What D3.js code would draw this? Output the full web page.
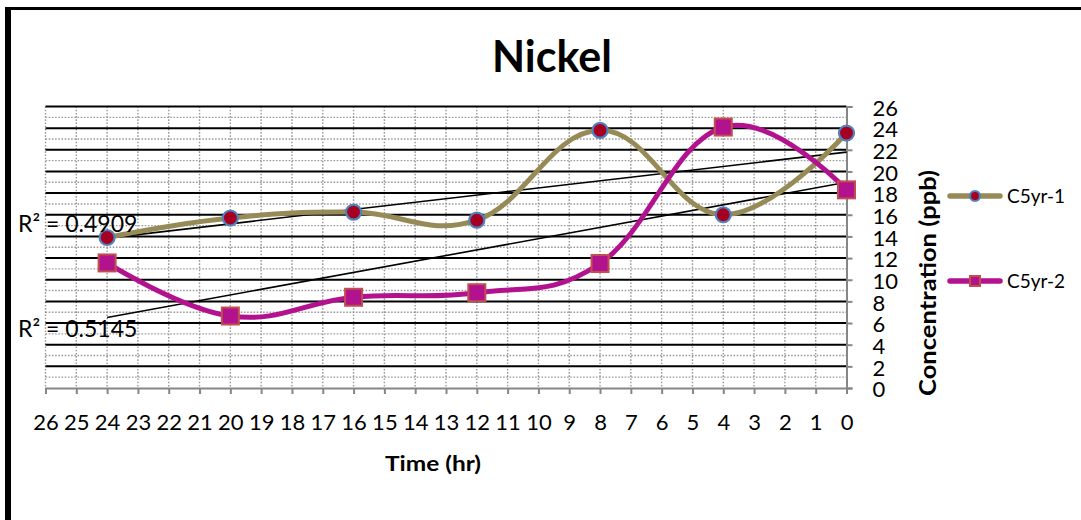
<!DOCTYPE html>
<html>
<head>
<meta charset="utf-8">
<script src="https://cdn.jsdelivr.net/npm/d3@7/dist/d3.min.js"></script>
<style>
  html, body { margin: 0; padding: 0; background: #fff; }
  svg { display: block; }
  text { font-family: Lato, "Open Sans", sans-serif; fill: #000; }
</style>
</head>
<body>
<svg id="chart" width="1081" height="520"></svg>
<script>
// Nickel concentration over time, two sampling campaigns
const hours = [24, 20, 16, 12, 8, 4, 0];
const c5yr1 = [13.9, 15.7, 16.25, 15.5, 23.8, 16.0, 23.55];
const c5yr2 = [11.55, 6.65, 8.38, 8.8, 11.5, 24.1, 18.3];
const seriesNames = ["C5yr-1", "C5yr-2"];
const rSquaredLabels = ["R\u00B2 = 0.4909", "R\u00B2 = 0.5145"];
const xTickValues = d3.range(26, -1, -1);
const yTickValues = d3.range(0, 27, 2);

const W = 1081, H = 520;
const svg = d3.select("#chart");

// frame of the chart object
svg.append("rect").attr("x", 5).attr("y", 7).attr("width", W).attr("height", 3).attr("fill", "#000");
svg.append("rect").attr("x", 5).attr("y", 7).attr("width", 6).attr("height", H).attr("fill", "#000");

const plot = { left: 45.5, right: 846.5, top: 106.5, bottom: 388 };
const x = d3.scaleLinear().domain([26, 0]).range([plot.left, plot.right]);
const y = d3.scaleLinear().domain([0, 26]).range([plot.bottom, plot.top]);

// minor grid: dotted at every hour and every odd ppb
const grid = svg.append("g");
grid.selectAll("line.vx").data(xTickValues.filter(d => d !== 0)).join("line")
  .attr("x1", d => x(d)).attr("x2", d => x(d))
  .attr("y1", plot.top).attr("y2", plot.bottom)
  .attr("stroke", "#9a9a9a").attr("stroke-width", 1.4).attr("stroke-dasharray", "1.6,1.6");
grid.selectAll("line.hm").data(d3.range(1, 26, 2)).join("line")
  .attr("x1", plot.left).attr("x2", plot.right)
  .attr("y1", d => y(d)).attr("y2", d => y(d))
  .attr("stroke", "#9a9a9a").attr("stroke-width", 1.4).attr("stroke-dasharray", "1.6,1.6");
// major grid: solid every 2 ppb
grid.selectAll("line.hM").data(yTickValues.filter(d => d !== 0)).join("line")
  .attr("x1", plot.left).attr("x2", plot.right)
  .attr("y1", d => y(d)).attr("y2", d => y(d))
  .attr("stroke", "#000").attr("stroke-width", 2);

// axes
const xAxis = d3.axisBottom(x).tickValues(xTickValues).tickSize(6).tickPadding(20).tickFormat(d3.format("d"));
const gx = svg.append("g").attr("transform", `translate(0,${plot.bottom})`).call(xAxis);
gx.select(".domain").attr("stroke", "#868686").attr("stroke-width", 2);
gx.selectAll(".tick line").attr("stroke", "#868686").attr("stroke-width", 2);
gx.selectAll(".tick text").attr("font-size", 22).attr("font-family", "Lato").attr("fill", "#000");

const yAxis = d3.axisRight(y).tickValues(yTickValues).tickSize(6).tickPadding(20).tickFormat(d3.format("d"));
const gy = svg.append("g").attr("transform", `translate(${plot.right},0)`).call(yAxis);
gy.select(".domain").attr("stroke", "#868686").attr("stroke-width", 2);
gy.selectAll(".tick line").attr("stroke", "#868686").attr("stroke-width", 2);
gy.selectAll(".tick text").attr("font-size", 22).attr("font-family", "Lato").attr("fill", "#000")
  .attr("text-anchor", "start").attr("x", 26).attr("dy", "0.4em");

// linear trend lines (least squares)
function fit(xs, ys) {
  const mx = d3.mean(xs), my = d3.mean(ys);
  let sxy = 0, sxx = 0;
  xs.forEach((v, i) => { sxy += (v - mx) * (ys[i] - my); sxx += (v - mx) * (v - mx); });
  const b = sxy / sxx;
  return v => my + b * (v - mx);
}
const trendG = svg.append("g");
[c5yr1, c5yr2].forEach(vals => {
  const f = fit(hours, vals);
  const x0 = d3.max(hours), x1 = d3.min(hours);
  trendG.append("line")
    .attr("x1", x(x0)).attr("y1", y(f(x0)))
    .attr("x2", x(x1)).attr("y2", y(f(x1)))
    .attr("stroke", "#000").attr("stroke-width", 1.6);
});

// smoothed series lines
const styles = [
  { line: "#968b57", fill: "#a50021", edge: "#4f81bd", shape: "circle" },
  { line: "#b3128f", fill: "#b3128f", edge: "#c0504d", shape: "square" }
];
const lineGen = d3.line().x(d => x(d[0])).y(d => y(d[1])).curve(d3.curveCardinal.tension(-0.2));
const seriesData = [c5yr1, c5yr2].map(vals => hours.map((h, i) => [h, vals[i]]));
seriesData.forEach((pts, s) => {
  svg.append("path").datum(pts).attr("d", lineGen)
    .attr("fill", "none").attr("stroke", styles[s].line)
    .attr("stroke-width", 5).attr("stroke-linejoin", "round").attr("stroke-linecap", "round");
});

function marker(g, cx, cy, st, size) {
  if (st.shape === "circle") {
    g.append("circle").attr("cx", cx).attr("cy", cy).attr("r", size / 2)
      .attr("fill", st.fill).attr("stroke", st.edge).attr("stroke-width", 2.2);
  } else {
    g.append("rect").attr("x", cx - size / 2).attr("y", cy - size / 2)
      .attr("width", size).attr("height", size)
      .attr("fill", st.fill).attr("stroke", st.edge).attr("stroke-width", 2);
  }
}
seriesData.forEach((pts, s) => {
  const g = svg.append("g");
  pts.forEach(p => marker(g, x(p[0]), y(p[1]), styles[s], s === 0 ? 15 : 17));
});

// R² labels for the trend lines
svg.append("text").attr("x", 18).attr("y", 232).attr("font-size", 23).text(rSquaredLabels[0]);
svg.append("text").attr("x", 18).attr("y", 337).attr("font-size", 23).text(rSquaredLabels[1]);

// titles
svg.append("text").attr("x", 552).attr("y", 72).attr("text-anchor", "middle")
  .attr("font-size", 43).attr("font-weight", "bold").text("Nickel");
svg.append("text").attr("x", 433).attr("y", 471).attr("text-anchor", "middle")
  .attr("font-size", 21).attr("font-weight", "bold")
  .attr("textLength", 96).attr("lengthAdjust", "spacingAndGlyphs").text("Time (hr)");
svg.append("text").attr("transform", "translate(936,283) rotate(-90)").attr("text-anchor", "middle")
  .attr("font-size", 22).attr("font-weight", "bold")
  .attr("textLength", 226).attr("lengthAdjust", "spacingAndGlyphs").text("Concentration (ppb)");

// legend
const legendY = [196, 281];
seriesNames.forEach((name, s) => {
  const g = svg.append("g");
  g.append("line").attr("x1", 950).attr("x2", 1000).attr("y1", legendY[s]).attr("y2", legendY[s])
    .attr("stroke", styles[s].line).attr("stroke-width", 5.5).attr("stroke-linecap", "round");
  marker(g, 975, legendY[s], styles[s], 10);
  g.append("text").attr("x", 1007).attr("y", legendY[s] + 7).attr("font-size", 19).text(name);
});
</script>
</body>
</html>
